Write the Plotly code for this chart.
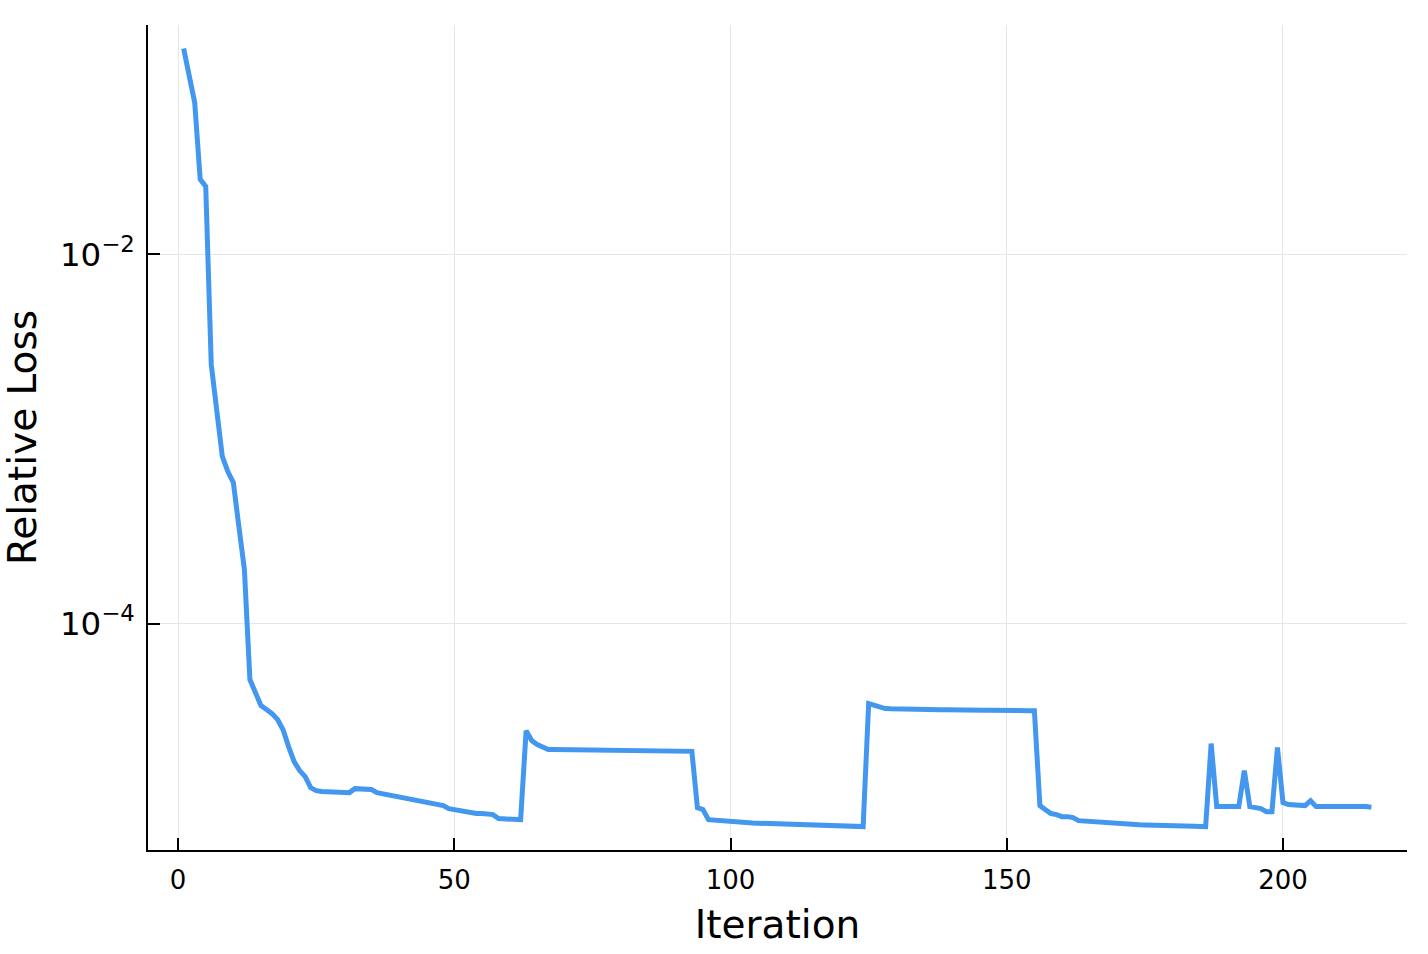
import plotly.graph_objects as go

iterations = list(range(1, 217))

relative_loss = [
    0.1307, 0.0911, 0.0666, 0.0255, 0.02337, 0.002534, 0.001427, 0.000804, 0.000666, 0.000581,
    0.0003355, 0.0001962, 4.97e-5, 4.23e-5, 3.59e-5, 3.42e-5, 3.25e-5, 3.02e-5, 2.66e-5, 2.154e-5,
    1.786e-5, 1.597e-5, 1.482e-5, 1.291e-5, 1.244e-5, 1.229e-5, 1.229e-5, 1.229e-5, 1.229e-5, 1.221e-5,
    1.213e-5, 1.275e-5, 1.275e-5, 1.26e-5, 1.26e-5, 1.213e-5, 1.198e-5, 1.183e-5, 1.169e-5, 1.154e-5,
    1.126e-5, 1.126e-5, 1.112e-5, 1.084e-5, 1.071e-5, 1.058e-5, 1.045e-5, 1.032e-5, 9.94e-6, 9.81e-6,
    9.57e-6, 9.57e-6, 9.45e-6, 9.34e-6, 9.34e-6, 9.22e-6, 9.22e-6, 8.77e-6, 8.77e-6, 8.72e-6,
    8.66e-6, 8.66e-6, 2.63e-5, 2.323e-5, 2.21e-5, 2.154e-5, 2.076e-5,
    2.076e-5, 2.074e-5, 2.072e-5, 2.07e-5, 2.07e-5, 2.068e-5, 2.066e-5, 2.065e-5, 2.063e-5, 2.061e-5,
    2.06e-5, 2.058e-5, 2.056e-5, 2.055e-5, 2.053e-5, 2.051e-5, 2.05e-5, 2.048e-5, 2.046e-5, 2.045e-5,
    2.043e-5, 2.041e-5, 2.04e-5, 2.038e-5, 2.036e-5, 2.03e-5,
    1.006e-5, 9.81e-6, 8.66e-6, 8.6e-6, 8.55e-6, 8.5e-6, 8.44e-6, 8.40e-6, 8.38e-6, 8.34e-6,
    8.30e-6, 8.28e-6, 8.26e-6, 8.24e-6, 8.2e-6, 8.18e-6, 8.16e-6, 8.14e-6, 8.12e-6, 8.10e-6,
    8.08e-6, 8.06e-6, 8.05e-6, 8.04e-6, 8.02e-6, 8.0e-6, 7.99e-6, 7.98e-6, 7.96e-6, 7.95e-6,
    7.94e-6,
    3.684e-5, 3.59e-5, 3.5e-5, 3.46e-5, 3.45e-5,
    3.44e-5, 3.44e-5, 3.43e-5, 3.43e-5, 3.42e-5, 3.42e-5, 3.42e-5, 3.41e-5, 3.41e-5, 3.41e-5,
    3.40e-5, 3.40e-5, 3.40e-5, 3.40e-5, 3.39e-5, 3.39e-5, 3.39e-5, 3.39e-5, 3.38e-5, 3.38e-5,
    3.38e-5, 3.38e-5, 3.38e-5, 3.37e-5, 3.37e-5, 3.37e-5,
    1.032e-5, 9.81e-6, 9.34e-6, 9.22e-6, 8.99e-6, 8.99e-6, 8.88e-6, 8.55e-6, 8.5e-6, 8.44e-6,
    8.4e-6, 8.38e-6, 8.34e-6, 8.3e-6, 8.26e-6, 8.22e-6, 8.14e-6, 8.13e-6, 8.12e-6, 8.1e-6,
    8.1e-6, 8.08e-6, 8.07e-6, 8.06e-6, 8.05e-6, 8.04e-6, 8.02e-6, 8.0e-6, 7.98e-6, 7.96e-6,
    7.94e-6,
    2.237e-5, 1.019e-5, 1.019e-5, 1.019e-5, 1.019e-5, 1.019e-5, 1.597e-5, 1.019e-5, 1.006e-5, 9.94e-6,
    9.57e-6, 9.57e-6, 2.128e-5, 1.071e-5, 1.045e-5, 1.045e-5, 1.045e-5, 1.032e-5, 1.097e-5, 1.019e-5,
    1.019e-5, 1.019e-5, 1.019e-5, 1.019e-5, 1.032e-5, 1.019e-5, 1.019e-5, 1.019e-5, 1.019e-5, 1.01e-5,
]

x_ticks = [0, 50, 100, 150, 200]

fig = go.Figure()
fig.add_trace(go.Scatter(
    x=iterations, y=relative_loss, mode="lines",
    line=dict(color="#4397ee", width=5),
    showlegend=False,
))

font_family = "DejaVu Sans"

fig.update_layout(
    width=1428, height=954,
    margin=dict(l=148, r=21, t=25, b=104, autoexpand=False),
    paper_bgcolor="white", plot_bgcolor="white",
    font=dict(family=font_family, color="black"),
    showlegend=False,
)

fig.update_xaxes(
    range=[-5.45, 222.45],
    tickvals=x_ticks,
    ticks="inside", ticklen=12, tickwidth=2, tickcolor="black",
    showline=True, linecolor="black", linewidth=2,
    showgrid=True, gridcolor="#e6e6e6", gridwidth=1,
    zeroline=False,
    tickfont=dict(size=26, family=font_family),
    ticklabelstandoff=6,
    title=dict(text="Iteration", font=dict(size=39, family=font_family), standoff=16),
    automargin=False,
    mirror=False,
)

fig.update_yaxes(
    type="log",
    range=[-5.227, -0.757],
    tick0=0, dtick=2,
    exponentformat="power",
    ticks="inside", ticklen=12, tickwidth=2, tickcolor="black",
    showline=True, linecolor="black", linewidth=2,
    showgrid=True, gridcolor="#e6e6e6", gridwidth=1,
    zeroline=False,
    tickfont=dict(size=26, family=font_family),
    ticklabelstandoff=6,
    title=dict(text="Relative Loss", font=dict(size=39, family=font_family), standoff=21),
    automargin=True,
    mirror=False,
)

fig.write_html(
    "out.html",
    config={"displayModeBar": False},
    post_script="document.body.style.margin='0';document.body.style.overflow='hidden';",
)
